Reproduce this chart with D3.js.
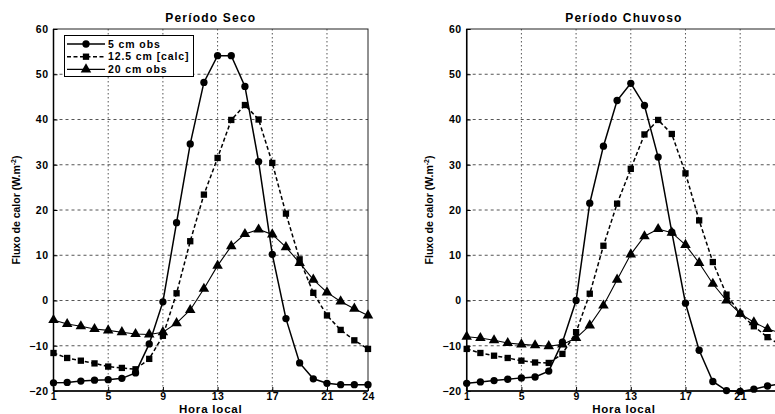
<!DOCTYPE html>
<html><head><meta charset="utf-8">
<script src="https://cdn.jsdelivr.net/npm/d3@7"></script>
<style>
html,body{margin:0;padding:0;background:#fff;overflow:hidden;}
text{font-family:"Liberation Sans",Arial,sans-serif;font-weight:bold;fill:#000;}
</style></head>
<body><svg id="c" width="775" height="414"></svg>
<script>
const hours = d3.range(1, 25);
const xTicks = [1, 5, 9, 13, 17, 21, 24];
const yTicks = [-20, -10, 0, 10, 20, 30, 40, 50, 60];
const seriesNames = ["5 cm obs", "12.5 cm [calc]", "20 cm obs"];
const panelTitles = ["Período Seco", "Período Chuvoso"];

const seco5 = [-18.2,-18.1,-17.8,-17.6,-17.5,-17.2,-16.0,-9.6,-0.3,17.2,34.6,48.2,54.1,54.1,47.3,30.7,10.2,-4.0,-13.8,-17.3,-18.3,-18.6,-18.6,-18.6];
const seco12 = [-11.6,-12.7,-13.3,-13.9,-14.6,-14.9,-15.2,-12.9,-7.8,1.6,13.1,23.4,31.5,39.9,43.2,40.0,30.4,19.2,9.1,1.7,-3.3,-6.5,-8.8,-10.7];
const seco20 = [-4.3,-5.2,-5.7,-6.3,-6.6,-7.0,-7.4,-7.5,-7.0,-5.0,-2.1,2.6,7.7,12.0,14.7,15.7,14.6,11.8,8.3,4.6,1.8,-0.2,-1.8,-3.3];

const chuv5 = [-18.3,-18.0,-17.7,-17.4,-17.1,-16.9,-15.6,-9.2,0.0,21.5,34.1,44.2,48.0,43.1,31.7,15.1,-0.6,-11.0,-17.9,-19.9,-20.1,-19.6,-18.9,-18.4];
const chuv12 = [-10.7,-11.6,-12.2,-12.7,-13.3,-13.7,-13.8,-11.8,-7.0,1.5,12.1,21.4,29.1,36.7,39.9,36.8,28.1,17.7,8.5,1.3,-2.9,-5.7,-8.1,-9.9];
const chuv20 = [-8.0,-8.3,-8.8,-9.4,-9.7,-9.9,-10.1,-9.7,-8.3,-5.5,-1.1,4.6,10.2,14.2,15.8,15.0,12.3,8.3,3.7,0.0,-2.9,-4.8,-6.3,-7.2];

const panels = [
  {title: panelTitles[0], data: [seco5, seco12, seco20], x0: 53.5, legend: true},
  {title: panelTitles[1], data: [chuv5, chuv12, chuv20], x0: 466.7, legend: false}
];
const plotW = 314.5, plotTop = 29, plotBottom = 391;
const styles = [
  {dash: null, width: 1.5, marker: d3.symbolCircle, size: 42},
  {dash: "4,2.5", width: 1.5, marker: d3.symbolSquare, size: 40},
  {dash: null, width: 1.1, marker: d3.symbolTriangle, size: 48}
];

const svg = d3.select("#c");
const y = d3.scaleLinear().domain([-20, 60]).range([plotBottom, plotTop]);

panels.forEach(p => {
  const x = d3.scaleLinear().domain([1, 24]).range([p.x0, p.x0 + plotW]);
  const g = svg.append("g");
  g.selectAll(".vg").data(xTicks.filter(t => t !== 1 && t !== 24)).enter().append("line")
    .attr("x1", d => x(d)).attr("x2", d => x(d)).attr("y1", plotTop).attr("y2", plotBottom)
    .attr("stroke", "#555").attr("stroke-width", 1).attr("stroke-dasharray", "1.5,2.5");
  g.selectAll(".hg").data(yTicks.filter(t => t !== -20 && t !== 60)).enter().append("line")
    .attr("x1", x(1)).attr("x2", x(24)).attr("y1", d => y(d)).attr("y2", d => y(d))
    .attr("stroke", "#555").attr("stroke-width", 1).attr("stroke-dasharray", "3,3");
  g.append("rect").attr("x", x(1)).attr("y", plotTop).attr("width", plotW).attr("height", plotBottom - plotTop)
    .attr("fill", "none").attr("stroke", "#222").attr("stroke-width", 1);
  g.append("line").attr("x1", x(1)).attr("x2", x(1)).attr("y1", plotTop).attr("y2", plotBottom).attr("stroke", "#000").attr("stroke-width", 1.5);
  g.append("line").attr("x1", x(1)).attr("x2", x(24)).attr("y1", plotBottom).attr("y2", plotBottom).attr("stroke", "#000").attr("stroke-width", 1.5);
  const xa = g.append("g").attr("transform", `translate(0,${plotBottom})`)
    .call(d3.axisBottom(x).tickValues(xTicks).tickSize(-4).tickPadding(2).tickFormat(d3.format("d")));
  const ya = g.append("g").attr("transform", `translate(${x(1)},0)`)
    .call(d3.axisLeft(y).tickValues(yTicks).tickSize(-4).tickPadding(5).tickFormat(d3.format("d")));
  [xa, ya].forEach(a => { a.select(".domain").remove(); a.selectAll("line").attr("stroke", "#000");
    a.selectAll("text").style("font-size", "10.5px").style("letter-spacing", "0.5px"); });
  p.data.forEach((vals, i) => {
    const st = styles[i];
    const line = d3.line().x((d, j) => x(hours[j])).y(d => y(d));
    g.append("path").datum(vals).attr("d", line).attr("fill", "none").attr("stroke", "#000")
      .attr("stroke-width", st.width).attr("stroke-dasharray", st.dash);
    g.selectAll(null).data(vals).enter().append("path")
      .attr("d", d3.symbol().type(st.marker).size(st.size))
      .attr("transform", (d, j) => `translate(${x(hours[j])},${y(d)})`).attr("fill", "#000");
  });
  g.append("text").attr("x", x(1) + plotW / 2).attr("y", 22).attr("text-anchor", "middle")
    .style("font-size", "12px").style("letter-spacing", "1.2px").text(p.title);
  g.append("text").attr("x", x(1) + plotW / 2).attr("y", 413).attr("text-anchor", "middle")
    .style("font-size", "11.5px").style("letter-spacing", "0.8px").text("Hora local");
  const yl = g.append("text").attr("transform", `translate(${p.x0 - 34},210) rotate(-90)`).attr("text-anchor", "middle").style("font-size", "10.5px");
  yl.append("tspan").text("Fluxo de calor (W.m");
  yl.append("tspan").attr("dy", -4).style("font-size", "7px").text("-2");
  yl.append("tspan").attr("dy", 4).text(")");
  if (p.legend) {
    const lg = g.append("g");
    lg.append("rect").attr("x", 64.5).attr("y", 35.5).attr("width", 129).attr("height", 41).attr("fill", "#fff").attr("stroke", "#000").attr("stroke-width", 1);
    seriesNames.forEach((n, i) => {
      const st = styles[i];
      const ly = 44 + i * 12.7;
      lg.append("line").attr("x1", 67).attr("x2", 105).attr("y1", ly).attr("y2", ly).attr("stroke", "#000")
        .attr("stroke-width", st.width).attr("stroke-dasharray", st.dash);
      lg.append("path").attr("d", d3.symbol().type(st.marker).size(st.size)).attr("transform", `translate(86,${ly})`).attr("fill", "#000");
      lg.append("text").attr("x", 108).attr("y", ly + 3.5).style("font-size", "10.5px").style("letter-spacing", "0.9px").text(n);
    });
  }
});
</script></body></html>
